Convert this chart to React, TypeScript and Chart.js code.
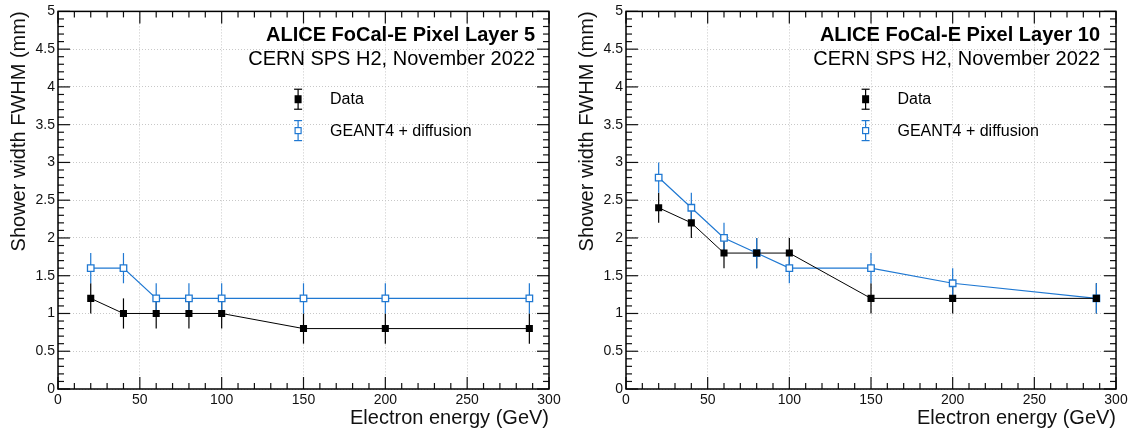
import React, { useEffect, useRef } from 'react';
import { Chart, registerables } from 'chart.js';

Chart.register(...registerables);

// ---------- data ----------
const energies = [20, 40, 60, 80, 100, 150, 200, 288];

const layer5Data = [1.2, 1.0, 1.0, 1.0, 1.0, 0.8, 0.8, 0.8];
const layer5DataErr = [0.2, 0.2, 0.2, 0.2, 0.2, 0.2, 0.2, 0.2];
const layer5Sim = [1.6, 1.6, 1.2, 1.2, 1.2, 1.2, 1.2, 1.2];
const layer5SimErr = [0.2, 0.2, 0.2, 0.2, 0.2, 0.2, 0.2, 0.2];

const layer10Data = [2.4, 2.2, 1.8, 1.8, 1.8, 1.2, 1.2, 1.2];
const layer10DataErr = [0.2, 0.2, 0.2, 0.2, 0.2, 0.2, 0.2, 0.2];
const layer10Sim = [2.8, 2.4, 2.0, 1.8, 1.6, 1.6, 1.4, 1.2];
const layer10SimErr = [0.2, 0.2, 0.2, 0.2, 0.2, 0.2, 0.2, 0.2];

const legendLabels = ['Data', 'GEANT4 + diffusion'];
const subtitleText = 'CERN SPS H2, November 2022';
const xTitle = 'Electron energy (GeV)';
const yTitle = 'Shower width FWHM (mm)';

const xMin = 0;
const xMax = 300;
const xMajorStep = 50;
const xMinorStep = 10;
const yMin = 0;
const yMax = 5;
const yMajorStep = 0.5;
const yMinorStep = 0.1;

// ---------- style ----------
const FONT = '"Liberation Sans", Arial, Helvetica, sans-serif';
const BLUE = '#1f78d2';
const BLACK = '#000000';

const errorBarPlugin = {
  id: 'errorBars',
  beforeDatasetsDraw(chart: any) {
    const ctx = chart.ctx;
    const xs = chart.scales.x;
    const ys = chart.scales.y;
    chart.data.datasets.forEach((ds: any) => {
      const errs: number[] = ds.errors || [];
      ctx.save();
      ctx.strokeStyle = ds.borderColor;
      ctx.lineWidth = 1.2;
      ds.data.forEach((p: any, j: number) => {
        const x = xs.getPixelForValue(p.x);
        ctx.beginPath();
        ctx.moveTo(x, ys.getPixelForValue(p.y - errs[j]));
        ctx.lineTo(x, ys.getPixelForValue(p.y + errs[j]));
        ctx.stroke();
      });
      ctx.restore();
    });
  },
};

const isMajor = (v: number, step: number) => Math.abs(v / step - Math.round(v / step)) < 1e-6;

const decorPlugin = {
  id: 'decor',
  afterDraw(chart: any, _args: any, opts: any) {
    const ctx = chart.ctx;
    const { left, right, top, bottom } = chart.chartArea;
    const w = right - left;
    const h = bottom - top;
    const xs = chart.scales.x;
    const ys = chart.scales.y;

    ctx.save();
    // ticks (ROOT style, inward, on all four sides)
    ctx.strokeStyle = '#111';
    ctx.lineWidth = 1.2;
    const line = (x1: number, y1: number, x2: number, y2: number) => {
      ctx.beginPath();
      ctx.moveTo(x1, y1);
      ctx.lineTo(x2, y2);
      ctx.stroke();
    };
    const nx = Math.round((xMax - xMin) / xMinorStep);
    for (let i = 0; i <= nx; i++) {
      const v = xMin + i * xMinorStep;
      const px = xs.getPixelForValue(v);
      const len = isMajor(v, xMajorStep) ? 12 : 6;
      line(px, bottom, px, bottom - len);
      line(px, top, px, top + len);
    }
    const ny = Math.round((yMax - yMin) / yMinorStep);
    for (let i = 0; i <= ny; i++) {
      const v = yMin + i * yMinorStep;
      const py = ys.getPixelForValue(v);
      const len = isMajor(v, yMajorStep) ? 12 : 6;
      line(left, py, left + len, py);
      line(right, py, right - len, py);
    }
    // frame
    ctx.lineWidth = 1.5;
    ctx.strokeStyle = BLACK;
    ctx.strokeRect(left, top, w, h);

    // header text
    ctx.fillStyle = BLACK;
    ctx.textAlign = 'right';
    ctx.textBaseline = 'middle';
    ctx.font = `bold 20px ${FONT}`;
    ctx.fillText(opts.title, opts.titleRight, top + 0.0625 * h);
    ctx.font = `20px ${FONT}`;
    ctx.fillText(opts.subtitle, opts.titleRight, top + 0.128 * h);

    // legend
    const mx = left + 0.489 * w;
    const tx = left + 0.554 * w;
    const rows = [top + 0.2326 * h, top + 0.3157 * h];
    chart.data.datasets.forEach((ds: any, i: number) => {
      const y = rows[i];
      ctx.strokeStyle = ds.borderColor;
      ctx.lineWidth = 1.2;
      line(mx, y - 10, mx, y + 10);
      line(mx - 4, y - 10, mx + 4, y - 10);
      line(mx - 4, y + 10, mx + 4, y + 10);
      if (i === 0) {
        ctx.fillStyle = BLACK;
        ctx.fillRect(mx - 3.5, y - 4, 7, 8);
      } else {
        ctx.fillStyle = '#fff';
        ctx.fillRect(mx - 3, y - 3, 6, 6);
        ctx.strokeRect(mx - 3, y - 3, 6, 6);
      }
      ctx.fillStyle = BLACK;
      ctx.textAlign = 'left';
      ctx.font = `16px ${FONT}`;
      ctx.fillText(ds.label, tx, y + 0.5);
    });
    ctx.restore();
  },
};

type PanelCfg = {
  title: string;
  data: number[];
  dataErr: number[];
  sim: number[];
  simErr: number[];
  titleRight: number;
};

const fmt = (v: any) => String(Math.round(Number(v) * 10) / 10);

function Panel({ cfg, x, width }: { cfg: PanelCfg; x: number; width: number }) {
  const ref = useRef<HTMLCanvasElement>(null);
  useEffect(() => {
    if (!ref.current) return;
    const tickFont = { family: FONT, size: 14 };
    const chart = new Chart(ref.current, {
      type: 'line',
      data: {
        datasets: [
          {
            label: legendLabels[0],
            data: energies.map((e, i) => ({ x: e, y: cfg.data[i] })),
            errors: cfg.dataErr,
            borderColor: BLACK,
            backgroundColor: BLACK,
            borderWidth: 1,
            pointStyle: 'rect',
            pointRadius: 5,
            pointBackgroundColor: BLACK,
            pointBorderColor: BLACK,
            pointBorderWidth: 0,
            tension: 0,
          } as any,
          {
            label: legendLabels[1],
            data: energies.map((e, i) => ({ x: e, y: cfg.sim[i] })),
            errors: cfg.simErr,
            borderColor: BLUE,
            backgroundColor: BLUE,
            borderWidth: 1.2,
            pointStyle: 'rect',
            pointRadius: 4.6,
            pointBackgroundColor: '#ffffff',
            pointBorderColor: BLUE,
            pointBorderWidth: 1.3,
            tension: 0,
          } as any,
        ],
      },
      options: {
        responsive: false,
        animation: false,
        devicePixelRatio: 1,
        events: [],
        layout: { padding: { left: 0, right: 18, top: 8, bottom: 0 } },
        plugins: {
          legend: { display: false },
          tooltip: { enabled: false },
          decor: { title: cfg.title, subtitle: subtitleText, titleRight: cfg.titleRight },
        } as any,
        scales: {
          x: {
            type: 'linear',
            min: xMin,
            max: xMax,
            ticks: { stepSize: xMajorStep, padding: 3, font: tickFont, color: '#111', maxRotation: 0, autoSkip: false, callback: fmt },
            grid: { color: '#c8c8c8', lineWidth: 1, drawTicks: false },
            border: { display: false, dash: [1, 2] },
            title: { display: true, text: xTitle, align: 'end', color: '#111', font: { family: FONT, size: 20 }, padding: { top: 0, bottom: 2 } },
            afterFit: (s: any) => { s.height = 43; },
          },
          y: {
            type: 'linear',
            min: yMin,
            max: yMax,
            ticks: { stepSize: yMajorStep, padding: 3, font: tickFont, color: '#111', autoSkip: false, callback: fmt },
            grid: { color: '#c8c8c8', lineWidth: 1, drawTicks: false },
            border: { display: false, dash: [1, 2] },
            title: { display: true, text: yTitle, align: 'end', color: '#111', font: { family: FONT, size: 20 }, padding: { top: 7, bottom: 0 } },
            afterFit: (s: any) => { s.width = 58; },
          },
        },
      } as any,
      plugins: [errorBarPlugin, decorPlugin],
    });
    return () => chart.destroy();
  }, [cfg]);
  return (
    <canvas
      ref={ref}
      width={width}
      height={432}
      style={{ position: 'absolute', left: x, top: 0, width, height: 432 }}
    />
  );
}

const leftCfg: PanelCfg = {
  title: 'ALICE FoCal-E Pixel Layer 5',
  data: layer5Data,
  dataErr: layer5DataErr,
  sim: layer5Sim,
  simErr: layer5SimErr,
  titleRight: 535,
};
const rightCfg: PanelCfg = {
  title: 'ALICE FoCal-E Pixel Layer 10',
  data: layer10Data,
  dataErr: layer10DataErr,
  sim: layer10Sim,
  simErr: layer10SimErr,
  titleRight: 532,
};

export default function App() {
  return (
    <div style={{ position: 'fixed', left: 0, top: 0, width: 1134, height: 432, overflow: 'hidden', background: '#fff' }}>
      <Panel cfg={leftCfg} x={0} width={567} />
      <Panel cfg={rightCfg} x={568} width={566} />
    </div>
  );
}
